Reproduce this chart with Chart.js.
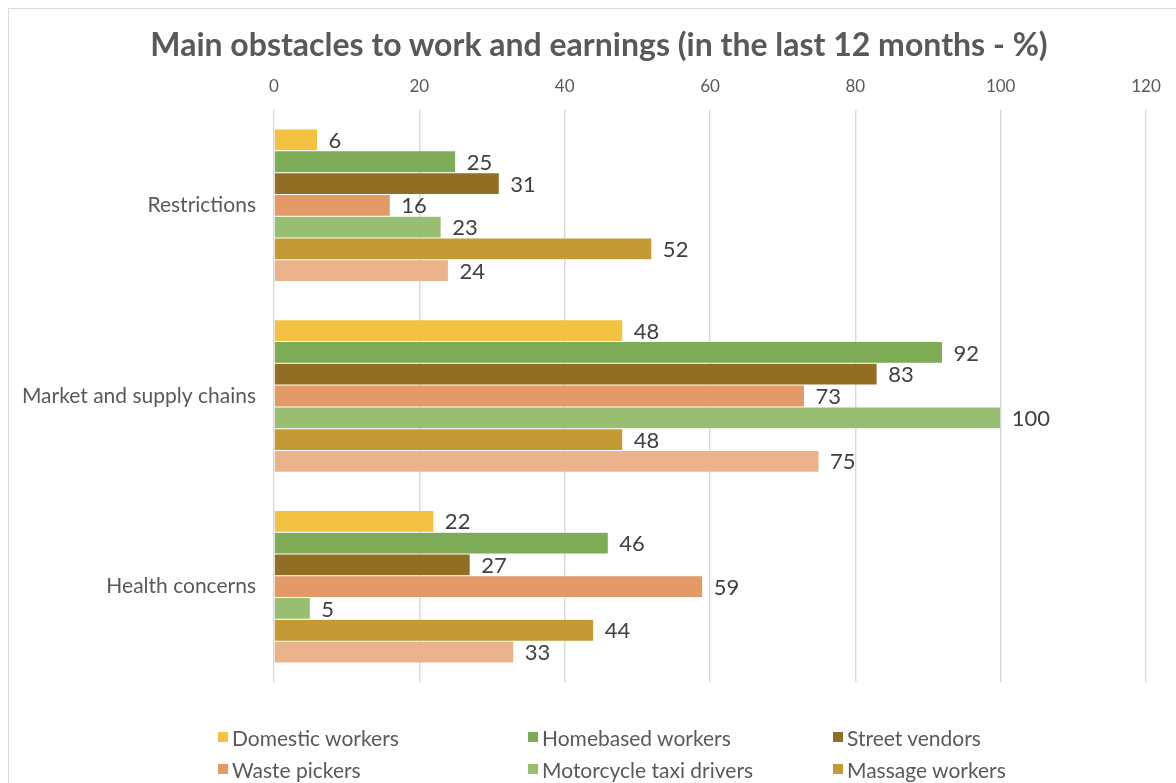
<!DOCTYPE html>
<html>
<head>
<meta charset="utf-8">
<script src="https://cdn.jsdelivr.net/npm/chart.js@4/dist/chart.umd.min.js"></script>
<style>
    html, body { margin: 0; padding: 0; background: #fff; overflow: hidden; }
    body { width: 1176px; height: 783px; position: relative; font-family: Lato, "Open Sans", sans-serif; }
    #frame { position: absolute; left: 8px; top: 8px; width: 1300px; height: 900px; border: 1px solid #d9d9d9; }
    #chart { position: absolute; left: 0; top: 0; }
    #title { position: absolute; left: 0; top: 24px; width: 1198px; text-align: center; font-size: 32px; font-weight: bold; color: #595959; white-space: nowrap; }
    #legend { position: absolute; left: 218px; top: 724px; display: grid; grid-template-columns: 310px 305px 320px; row-gap: 6px; }
    .item { display: flex; align-items: center; font-size: 21px; color: #595959; height: 26px; white-space: nowrap; }
    .box { width: 10px; height: 10px; margin-right: 4px; }
</style>
</head>
<body>
<div id="frame"></div>
<canvas id="chart" width="1176" height="783"></canvas>
<div id="title">Main obstacles to work and earnings (in the last 12 months - %)</div>
<div id="legend"></div>
<script>
// Chart data
const categories = ['Restrictions', 'Market and supply chains', 'Health concerns'];
const seriesNames = ['Domestic workers', 'Homebased workers', 'Street vendors', 'Waste pickers',
    'Motorcycle taxi drivers', 'Massage workers', 'Market traders'];
const seriesColors = ['#F4C242', '#7DAB56', '#906F24', '#E39A66', '#98BF71', '#C49A35', '#EAB38B'];
const domesticValues = [6, 48, 22];
const homebasedValues = [25, 92, 46];
const streetValues = [31, 83, 27];
const wasteValues = [16, 73, 59];
const motorcycleValues = [23, 100, 5];
const massageValues = [52, 48, 44];
const marketValues = [24, 75, 33];
const xTicks = [0, 20, 40, 60, 80, 100, 120];

const seriesValues = [domesticValues, homebasedValues, streetValues, wasteValues,
    motorcycleValues, massageValues, marketValues];

// Value labels at the end of each bar
const barLabels = {
    id: 'barLabels',
    afterDatasetsDraw(chart) {
        const ctx = chart.ctx;
        ctx.save();
        ctx.font = '22px Lato';
        ctx.fillStyle = '#404040';
        ctx.textAlign = 'left';
        ctx.textBaseline = 'middle';
        chart.data.datasets.forEach((ds, i) => {
            chart.getDatasetMeta(i).data.forEach((bar, j) => {
                ctx.fillText(ds.data[j], bar.x + 11, bar.y + 1);
            });
        });
        ctx.restore();
    }
};

new Chart(document.getElementById('chart'), {
    type: 'bar',
    data: {
        labels: categories,
        datasets: seriesNames.map((name, i) => ({
            label: name,
            data: seriesValues[i],
            backgroundColor: seriesColors[i],
            borderColor: 'rgba(255,255,255,0.6)',
            borderWidth: 0.5,
            barPercentage: 1,
            categoryPercentage: 0.8
        }))
    },
    options: {
        indexAxis: 'y',
        responsive: false,
        animation: false,
        layout: { padding: { left: 10, right: 30, top: 62, bottom: 101 } },
        plugins: {
            legend: { display: false },
            tooltip: { enabled: false },
            title: { display: false }
        },
        scales: {
            x: {
                position: 'top',
                min: 0,
                max: 120,
                afterBuildTicks: s => { s.ticks = xTicks.map(v => ({ value: v })); },
                afterFit: s => { s.height = 48; },
                ticks: { color: '#595959', font: { family: 'Lato', size: 17 }, padding: 13 },
                grid: { color: '#d9d9d9', lineWidth: 1.5, drawTicks: false },
                border: { display: false }
            },
            y: {
                afterFit: s => { s.width = 264; },
                ticks: { color: '#595959', font: { family: 'Lato', size: 21 }, padding: 18 },
                grid: { display: false, drawTicks: false },
                border: { display: false }
            }
        }
    },
    plugins: [barLabels]
});

// Legend laid out in columns like the original
const legend = document.getElementById('legend');
seriesNames.forEach((name, i) => {
    const item = document.createElement('div');
    item.className = 'item';
    item.innerHTML = `<span class="box" style="background:${seriesColors[i]}"></span>${name}`;
    legend.appendChild(item);
});
</script>
</body>
</html>
